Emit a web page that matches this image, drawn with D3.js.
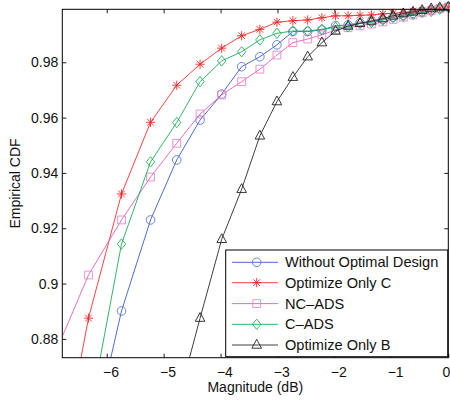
<!DOCTYPE html>
<html>
<head>
<meta charset="utf-8">
<script src="https://cdn.jsdelivr.net/npm/d3@7"></script>
<style>
  html, body { margin: 0; padding: 0; background: #fff; }
  svg { display: block; }
  text { font-family: "Liberation Sans", Arial, sans-serif; fill: #111; }
</style>
</head>
<body>
<div id="chart"></div>
<script>
// ---- data ----
const magnitudeDb = [-6.99, -6.32, -5.74, -5.23, -4.77, -4.36, -3.98, -3.63, -3.31, -3.01, -2.73, -2.47, -2.22,
                     -1.98, -1.76, -1.55, -1.35, -1.15, -0.97, -0.79, -0.62, -0.46, -0.30, -0.15, 0.00];
const seriesNames = ["Without Optimal Design", "Optimize Only C", "NC\u2013ADS", "C\u2013ADS", "Optimize Only B"];
// null = point not plotted
const withoutOptimal = [null, 0.838, 0.8901, 0.923, 0.9447, 0.9591, 0.9685, 0.9784, 0.9820, 0.9863, 0.9911, 0.9911, 0.9917,
                        0.9932, 0.9935, 0.9942, 0.9947, 0.9955, 0.9963, 0.9970, 0.9977, 0.9983, 0.9989, 0.9995, 1.0000];
const optimizeC      = [0.814, 0.8875, 0.9324, 0.9583, 0.9717, 0.9793, 0.9851, 0.9896, 0.9919, 0.9945, 0.9950, 0.9953, 0.9961,
                        0.9968, 0.9968, 0.9970, 0.9971, 0.9975, 0.9977, 0.9980, 0.9985, 0.9988, 0.9992, 0.9996, 1.0000];
const ncAds          = [0.8707, 0.9031, 0.9230, 0.9385, 0.9507, 0.9613, 0.9682, 0.9730, 0.9775, 0.9826, 0.9871, 0.9884, 0.9899,
                        0.9917, 0.9925, 0.9932, 0.9938, 0.9946, 0.9955, 0.9963, 0.9971, 0.9979, 0.9986, 0.9993, 1.0000];
const cAds           = [null, 0.8505, 0.9143, 0.9440, 0.9582, 0.9730, 0.9805, 0.9838, 0.9881, 0.9905, 0.9913, 0.9913, 0.9919,
                        0.9926, 0.9928, 0.9940, 0.9944, 0.9952, 0.9962, 0.9967, 0.9973, 0.9980, 0.9984, 0.9992, 1.0000];
const optimizeB      = [null, null, null, null, 0.8559, 0.8875, 0.9160, 0.9341, 0.9534, 0.9658, 0.9746, 0.9820, 0.9871,
                        0.9913, 0.9931, 0.9941, 0.9949, 0.9958, 0.9968, 0.9976, 0.9982, 0.9988, 0.9994, 0.9998, 1.0000];
const xTicks = [-6, -5, -4, -3, -2, -1, 0];
const yTicks = [0.88, 0.90, 0.92, 0.94, 0.96, 0.98];
const xDomain = [-6.78, 0];
const yDomain = [0.8732, 0.99915];

// ---- styles ----
const styles = [
  { line: "#3a5cc4", mark: "#5a78d4", marker: "circle" },
  { line: "#f03030", mark: "#f02828", marker: "star" },
  { line: "#e060b4", mark: "#e888c8", marker: "square" },
  { line: "#1eaa5a", mark: "#28b060", marker: "diamond" },
  { line: "#2a2a2a", mark: "#222222", marker: "triangle" }
];
const allSeries = [withoutOptimal, optimizeC, ncAds, cAds, optimizeB];

const W = 450, H = 402;
const plot = { left: 62.3, right: 448.3, top: 9.3, bottom: 357.7 };

const svg = d3.select("#chart").append("svg").attr("width", W).attr("height", H);

const x = d3.scaleLinear().domain(xDomain).range([plot.left, plot.right]);
const y = d3.scaleLinear().domain(yDomain).range([plot.bottom, plot.top]);

const defs = svg.append("defs");
defs.append("clipPath").attr("id", "clipLines").append("rect")
  .attr("x", plot.left).attr("y", plot.top)
  .attr("width", plot.right - plot.left).attr("height", plot.bottom - plot.top);
defs.append("clipPath").attr("id", "clipMarks").append("rect")
  .attr("x", plot.left - 6).attr("y", 0)
  .attr("width", plot.right - plot.left + 12).attr("height", plot.bottom);

function markerPath(type) {
  const p = d3.path();
  if (type === "circle") {
    p.moveTo(4.3, 0); p.arc(0, 0, 4.3, 0, Math.PI * 2);
  } else if (type === "square") {
    p.rect(-3.9, -3.9, 7.8, 7.8);
  } else if (type === "diamond") {
    p.moveTo(0, -5.2); p.lineTo(4.2, 0); p.lineTo(0, 5.2); p.lineTo(-4.2, 0); p.closePath();
  } else if (type === "triangle") {
    p.moveTo(0, -5.6); p.lineTo(4.8, 3.2); p.lineTo(-4.8, 3.2); p.closePath();
  } else if (type === "star") {
    const r = 4.6, d = 3.3;
    p.moveTo(-r, 0); p.lineTo(r, 0);
    p.moveTo(0, -r); p.lineTo(0, r);
    p.moveTo(-d, -d); p.lineTo(d, d);
    p.moveTo(-d, d); p.lineTo(d, -d);
  }
  return p.toString();
}

// ---- series ----
const gSeries = svg.append("g");
allSeries.forEach((vals, i) => {
  const pts = magnitudeDb.map((m, j) => ({ m, v: vals[j] })).filter(d => d.v !== null);
  const line = d3.line().x(d => x(d.m)).y(d => y(d.v));
  gSeries.append("path")
    .attr("clip-path", "url(#clipLines)")
    .attr("d", line(pts))
    .attr("fill", "none")
    .attr("stroke", styles[i].line)
    .attr("stroke-width", 0.9);
  gSeries.append("g").attr("clip-path", "url(#clipMarks)")
    .selectAll("path").data(pts.filter(d => d.v >= yDomain[0])).join("path")
    .attr("transform", d => `translate(${x(d.m)},${y(d.v)})`)
    .attr("d", markerPath(styles[i].marker))
    .attr("fill", "none")
    .attr("stroke", styles[i].mark)
    .attr("stroke-width", 0.9);
});

// ---- axes box ----
const fmtX = d => d < 0 ? "\u2212" + Math.abs(d) : String(d);
const fmtY = d => d3.format(".2f")(d).replace(/0$/, "");

const axB = d3.axisBottom(x).tickValues(xTicks).tickSize(-4).tickPadding(9).tickFormat(fmtX);
const axT = d3.axisTop(x).tickValues(xTicks).tickSize(-4).tickFormat("");
const axL = d3.axisLeft(y).tickValues(yTicks).tickSize(-4).tickPadding(4).tickFormat(fmtY);
const axR = d3.axisRight(y).tickValues(yTicks).tickSize(-4).tickFormat("");

function styleAxis(g) {
  g.select(".domain").remove();
  g.selectAll("line").attr("stroke", "#000").attr("stroke-width", 0.9);
  g.selectAll("text").attr("font-size", 14).attr("fill", "#111")
    .attr("font-family", "'Liberation Sans', Arial, sans-serif");
}
const gB = svg.append("g").attr("transform", `translate(0,${plot.bottom})`).call(axB).call(styleAxis);
gB.selectAll("text").attr("dx", d => d < 0 ? 3.8 : -2.5);
svg.append("g").attr("transform", `translate(0,${plot.top})`).call(axT).call(styleAxis);
svg.append("g").attr("transform", `translate(${plot.left},0)`).call(axL).call(styleAxis);
svg.append("g").attr("transform", `translate(${plot.right},0)`).call(axR).call(styleAxis);

svg.append("rect")
  .attr("x", plot.left).attr("y", plot.top)
  .attr("width", plot.right - plot.left).attr("height", plot.bottom - plot.top)
  .attr("fill", "none").attr("stroke", "#000").attr("stroke-width", 1);

// ---- axis labels ----
svg.append("text")
  .attr("x", (plot.left + plot.right) / 2).attr("y", 392)
  .attr("text-anchor", "middle").attr("font-size", 14)
  .text("Magnitude (dB)");
svg.append("text")
  .attr("transform", `translate(20,${(plot.top + plot.bottom) / 2}) rotate(-90)`)
  .attr("text-anchor", "middle").attr("font-size", 14)
  .text("Empirical CDF");

// ---- legend ----
const leg = { x: 225.7, y: 250, w: 222, h: 106.7 };
const gL = svg.append("g");
gL.append("rect").attr("x", leg.x).attr("y", leg.y).attr("width", leg.w).attr("height", leg.h)
  .attr("fill", "#fff").attr("stroke", "#000").attr("stroke-width", 1);
const rowY = [262.3, 282.7, 303.6, 324.3, 345];
seriesNames.forEach((name, i) => {
  const ry = rowY[i];
  gL.append("line").attr("x1", 232).attr("x2", 278).attr("y1", ry).attr("y2", ry)
    .attr("stroke", styles[i].line).attr("stroke-width", 0.9);
  gL.append("path").attr("transform", `translate(256.7,${ry})`)
    .attr("d", markerPath(styles[i].marker))
    .attr("fill", "none").attr("stroke", styles[i].mark).attr("stroke-width", 0.9);
  gL.append("text").attr("x", 285).attr("y", ry + 5).attr("font-size", 14.6).text(name);
});
</script>
</body>
</html>
